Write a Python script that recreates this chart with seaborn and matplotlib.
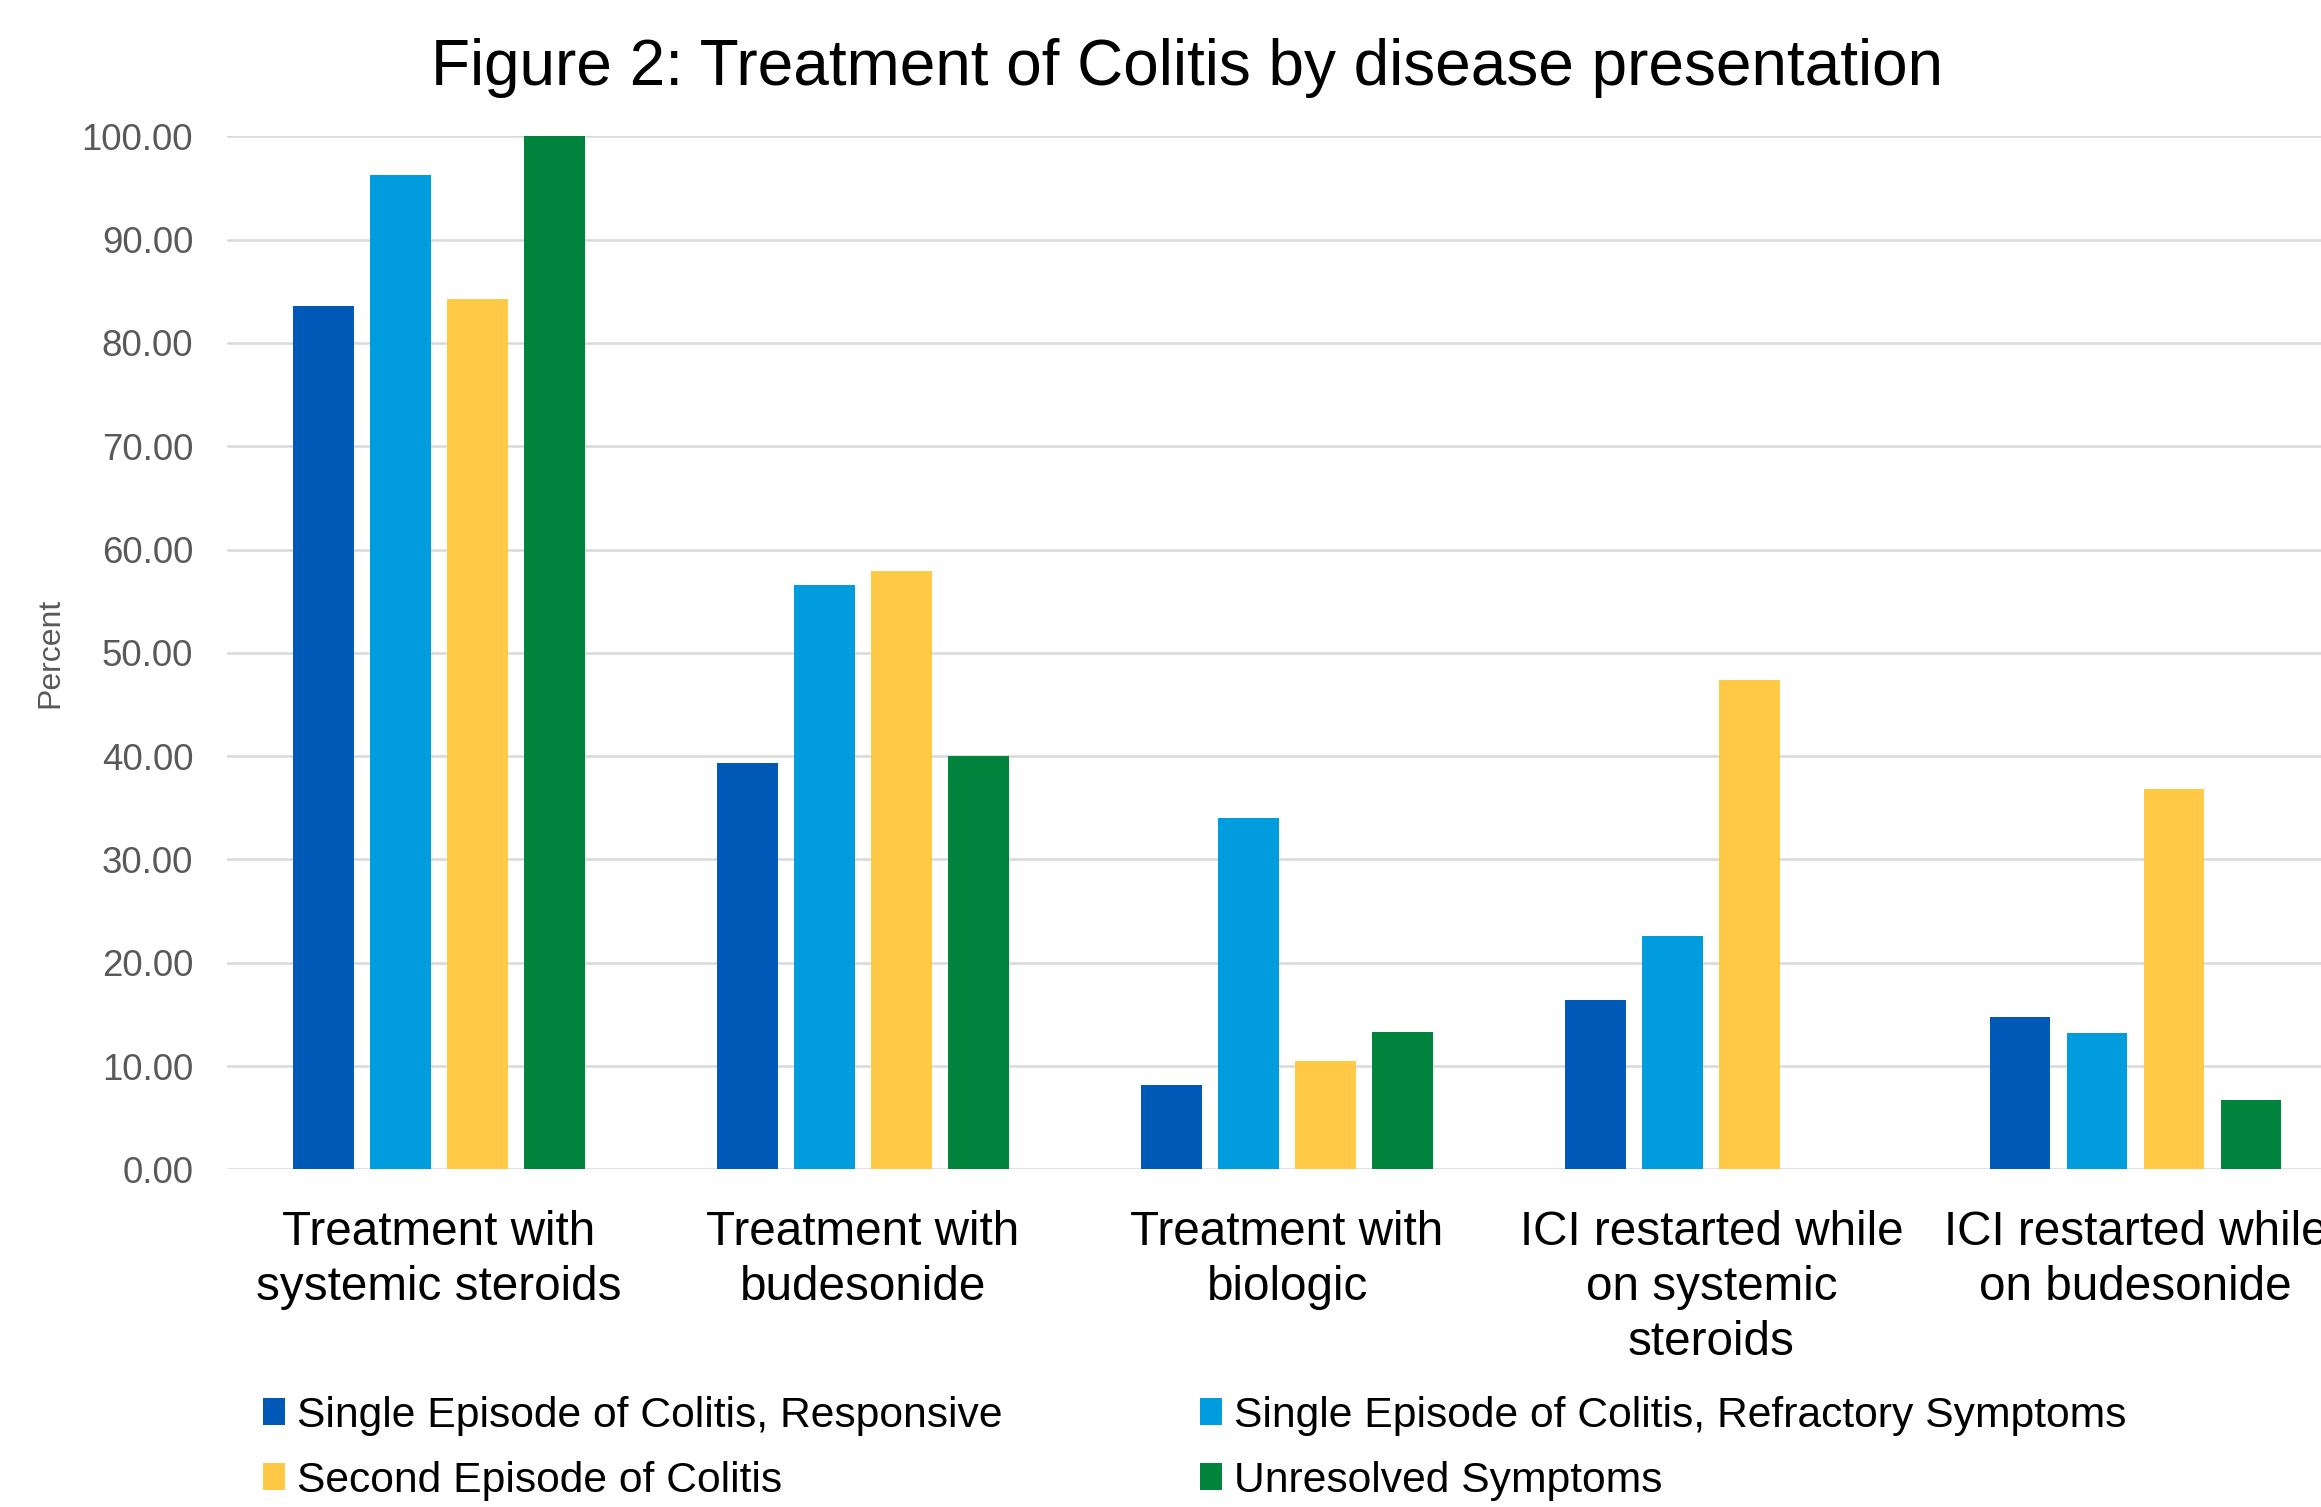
import matplotlib
matplotlib.use("Agg")
import matplotlib.pyplot as plt
import seaborn as sns
import pandas as pd
from matplotlib.patches import Patch
from matplotlib.ticker import FixedLocator, FormatStrFormatter

categories = [
    "Treatment with\nsystemic steroids",
    "Treatment with\nbudesonide",
    "Treatment with\nbiologic",
    "ICI restarted while\non systemic\nsteroids",
    "ICI restarted while\non budesonide",
]
series_names = [
    "Single Episode of Colitis, Responsive",
    "Single Episode of Colitis, Refractory Symptoms",
    "Second Episode of Colitis",
    "Unresolved Symptoms",
]
responsive = [83.6, 39.3, 8.2, 16.4, 14.8]
refractory = [96.2, 56.6, 34.0, 22.6, 13.2]
second_episode = [84.2, 57.9, 10.5, 47.4, 36.8]
unresolved = [100.0, 40.0, 13.3, 0.0, 6.7]
y_ticks = [0, 10, 20, 30, 40, 50, 60, 70, 80, 90, 100]

colors = ["#0058B7", "#009CDE", "#FFC845", "#00843D"]

rows = []
for name, vals in zip(series_names, [responsive, refractory, second_episode, unresolved]):
    for cat, v in zip(categories, vals):
        rows.append({"category": cat, "series": name, "percent": v})
df = pd.DataFrame(rows)

sns.set_theme(style="white")
plt.rcParams["font.family"] = ["Liberation Sans", "DejaVu Sans"]

fig = plt.figure(figsize=(23.21, 15.07), dpi=100)
ax = fig.add_axes([0.0976, 0.224, 0.9139, 0.6856])

sns.barplot(
    data=df, x="category", y="percent", hue="series",
    order=categories, hue_order=series_names,
    palette=colors, saturation=1, width=0.726, gap=0.21,
    legend=False, ax=ax, linewidth=0,
)

ax.set_xlim(-0.5, 4.5)
ax.set_ylim(0, 100)
ax.yaxis.set_major_locator(FixedLocator(y_ticks))
ax.yaxis.set_major_formatter(FormatStrFormatter("%.2f"))
ax.yaxis.grid(True, color="#D9D9D9", linewidth=1.8)
ax.set_axisbelow(True)
for s in ax.spines.values():
    s.set_visible(False)
ax.tick_params(axis="both", length=0)
ax.tick_params(axis="y", labelsize=26.4, labelcolor="#595959", pad=24)
ax.tick_params(axis="x", labelsize=34.3, labelcolor="black", pad=29)
for lab in ax.get_xticklabels():
    lab.set_linespacing(1.29)

ax.set_xlabel("")
ax.set_ylabel("Percent", fontsize=23, color="#595959", labelpad=12)

fig.text(0.5115, 1 - 68 / 1507, "Figure 2: Treatment of Colitis by disease presentation",
         ha="center", va="center", fontsize=46, color="black")

handles = [Patch(facecolor=c, edgecolor="none") for c in colors]
order = [0, 2, 1, 3]
fig.legend(
    [handles[i] for i in order], [series_names[i] for i in order],
    ncol=2, loc="upper left", bbox_to_anchor=(0.1135, 0.0737),
    frameon=False, fontsize=30.7, handlelength=0.5, handleheight=0.6,
    handletextpad=0.28, columnspacing=4.65, labelspacing=0.58,
    borderaxespad=0, borderpad=0, labelcolor="black",
)

fig.savefig("out.png", dpi=100)
